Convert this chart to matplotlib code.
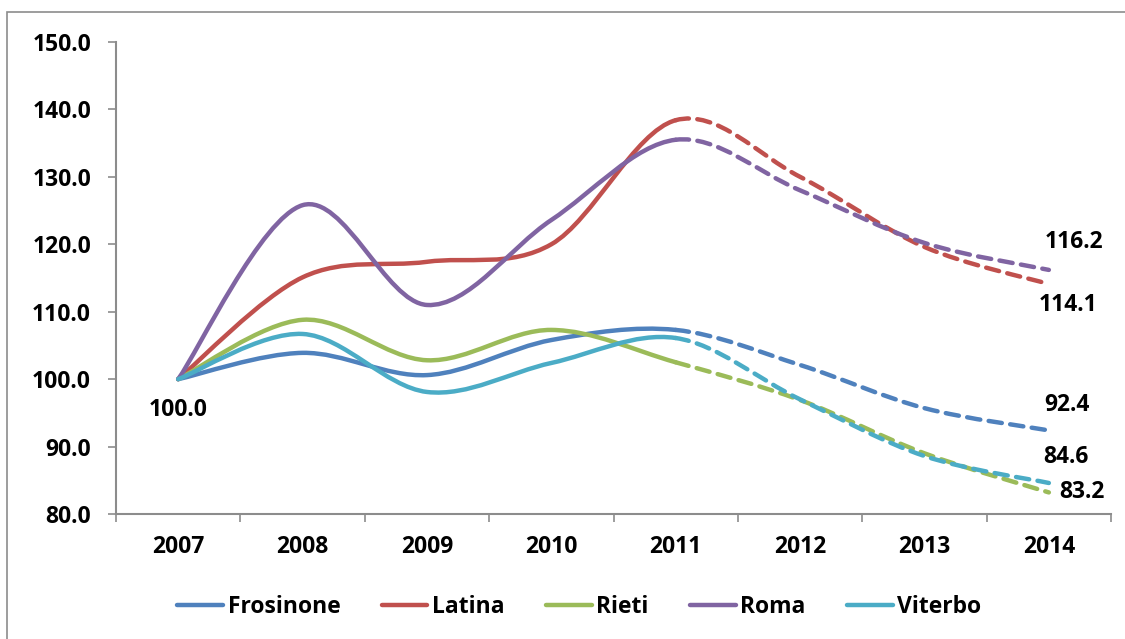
#! /usr/bin/env python3

import matplotlib
matplotlib.use('Agg')
import matplotlib.pyplot as plt
import numpy as np
from matplotlib.path import Path
from matplotlib.patches import PathPatch, Rectangle
from matplotlib.lines import Line2D
from matplotlib.ticker import FormatStrFormatter

years = ['2007', '2008', '2009', '2010', '2011', '2012', '2013', '2014']
provinces = ['Frosinone', 'Latina', 'Rieti', 'Roma', 'Viterbo']

frosinone = [100.0, 103.9, 100.6, 105.8, 107.3, 102.1, 95.7, 92.4]
latina = [100.0, 115.1, 117.4, 120.0, 138.4, 130.0, 119.6, 114.1]
rieti = [100.0, 108.8, 102.8, 107.3, 102.5, 96.9, 89.0, 83.2]
roma = [100.0, 125.8, 111.0, 123.6, 135.5, 128.0, 120.2, 116.2]
viterbo = [100.0, 106.7, 98.1, 102.4, 106.1, 97.0, 88.6, 84.6]

colors = ['#4F81BD', '#C0504D', '#9BBB59', '#8064A2', '#4BACC6']
series = [frosinone, latina, rieti, roma, viterbo]
split_idx = 4  # from 2011 on the series is dashed

FONT = ['Open Sans', 'DejaVu Sans']
plt.rcParams['font.family'] = FONT
plt.rcParams['font.weight'] = 'bold'
FS = 16.5


def smooth_path(xs, ys, start, stop):
    # Excel-like smoothed line: cubic bezier with catmull-rom control points
    pts = np.column_stack([xs, ys]).astype(float)
    n = len(pts)
    verts = [pts[start]]
    codes = [Path.MOVETO]
    for i in range(start, stop):
        p0 = pts[max(i - 1, 0)]
        p1 = pts[i]
        p2 = pts[i + 1]
        p3 = pts[min(i + 2, n - 1)]
        c1 = p1 + (p2 - p0) / 6.0
        c2 = p2 - (p3 - p1) / 6.0
        verts += [c1, c2, p2]
        codes += [Path.CURVE4] * 3
    return Path(verts, codes)


fig = plt.figure(figsize=(11.25, 6.39), dpi=100)
fig.patches.append(Rectangle((7 / 1125, -0.05), 1.1, 1.05 - 12 / 639,
                             transform=fig.transFigure, fill=False,
                             edgecolor='#8c8c8c', linewidth=1.2))
ax = fig.add_axes([0.1031, 0.1956, 0.8845, 0.7387])

x = np.arange(len(years))
for vals, col in zip(series, colors):
    solid = smooth_path(x, vals, 0, split_idx)
    dashed = smooth_path(x, vals, split_idx, len(years) - 1)
    ax.add_patch(PathPatch(solid, fill=False, edgecolor=col, lw=3.2,
                           capstyle='round', joinstyle='round'))
    ax.add_patch(PathPatch(dashed, fill=False, edgecolor=col, lw=3.2,
                           linestyle=(0, (3.0, 1.9)), capstyle='round',
                           joinstyle='round'))

ax.set_xlim(-0.5, len(years) - 0.5)
ax.set_ylim(80, 150)
ax.set_yticks(np.arange(80, 151, 10))
ax.yaxis.set_major_formatter(FormatStrFormatter('%.1f'))
ax.set_xticks(x)
ax.set_xticklabels(years)
ax.set_xticks(np.arange(-0.5, len(years), 1.0), minor=True)
ax.tick_params(axis='x', which='major', length=0, pad=15, labelsize=FS)
ax.tick_params(axis='x', which='minor', length=6, direction='out',
               color='#8c8c8c', width=1.2)
ax.tick_params(axis='y', length=6, direction='out', color='#8c8c8c',
               width=1.2, labelsize=FS, pad=12)
for lab in ax.get_xticklabels() + ax.get_yticklabels():
    lab.set_fontweight('bold')
for side in ['top', 'right']:
    ax.spines[side].set_visible(False)
for side in ['left', 'bottom']:
    ax.spines[side].set_color('#8c8c8c')
    ax.spines[side].set_linewidth(1.5)

# data labels
last = len(years) - 1
labels = [
    (0, frosinone[0], (0, -22)),
    (last, roma[last], (18, 20)),
    (last, latina[last], (14, -15)),
    (last, frosinone[last], (13, 18)),
    (last, viterbo[last], (12, 19)),
    (last, rieti[last], (24, 0)),
]
for xi, yv, off in labels:
    ax.annotate('%.1f' % yv, xy=(xi, yv), xytext=off,
                textcoords='offset points', ha='center', va='center',
                fontsize=FS, fontweight='bold')

handles = [Line2D([0], [0], color=c, lw=3.2, solid_capstyle='round')
           for c in colors]
fig.legend(handles, provinces, loc='center', bbox_to_anchor=(0.515, 0.05),
           ncol=5, frameon=False, handlelength=2.0, handletextpad=0.2,
           columnspacing=1.8, prop={'size': FS, 'weight': 'bold'})

fig.savefig('out.png', dpi=100)
